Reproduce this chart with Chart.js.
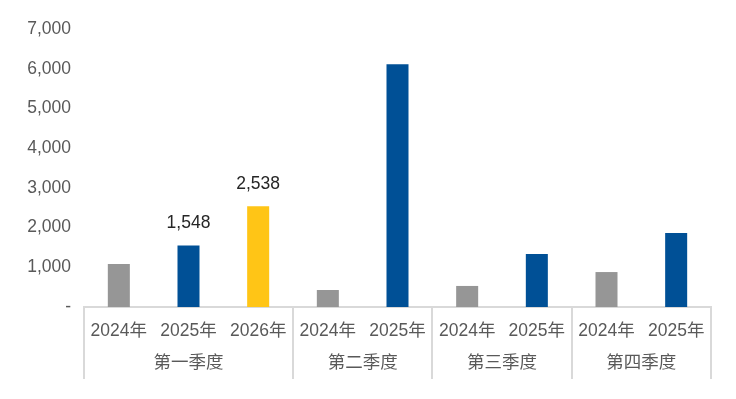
<!DOCTYPE html>
<html>
<head>
<meta charset="utf-8">
<script src="https://cdn.jsdelivr.net/npm/chart.js@4/dist/chart.umd.min.js"></script>
<style>
  html, body { margin: 0; padding: 0; background: #fff; }
  #wrap { width: 736px; height: 399px; }
</style>
</head>
<body>
<div id="wrap"><canvas id="quarterChart"></canvas></div>
<script>
// chart data
const quarters = ['第一季度', '第二季度', '第三季度', '第四季度'];
const quarterSizes = [3, 2, 2, 2];
const years = ['2024年', '2025年', '2026年', '2024年', '2025年', '2024年', '2025年', '2024年', '2025年'];
const values = [1080, 1548, 2538, 428, 6110, 530, 1335, 880, 1862];
const shownLabels = [false, true, true, false, false, false, false, false, false];
const yTicks = [0, 1000, 2000, 3000, 4000, 5000, 6000, 7000];

const yearColors = { '2024年': '#969696', '2025年': '#005096', '2026年': '#FFC516' };
const fontFamily = "'Liberation Sans', Arial, 'Noto Sans CJK SC', sans-serif";
const axisHeight = 72;

// quarter row + separators under the year labels
const groupAxisPlugin = {
  id: 'groupAxis',
  afterDraw(chart) {
    const ctx = chart.ctx;
    const x = chart.scales.x;
    const area = chart.chartArea;
    const top = area.bottom;
    const half = (x.getPixelForValue(1) - x.getPixelForValue(0)) / 2;

    ctx.save();
    ctx.strokeStyle = '#d9d9d9';
    ctx.lineWidth = 2;
    ctx.fillStyle = '#595959';
    ctx.font = '17.5px ' + fontFamily;
    ctx.textAlign = 'center';
    ctx.textBaseline = 'middle';

    let start = 0;
    const edges = [x.getPixelForValue(0) - half];
    quarters.forEach((q, i) => {
      const end = start + quarterSizes[i] - 1;
      const left = x.getPixelForValue(start) - half;
      const right = x.getPixelForValue(end) + half;
      edges.push(right);
      ctx.fillText(q, (left + right) / 2, top + 56);
      start = end + 1;
    });
    edges.forEach(e => {
      ctx.beginPath();
      ctx.moveTo(Math.round(e), top);
      ctx.lineTo(Math.round(e), top + axisHeight);
      ctx.stroke();
    });
    ctx.restore();
  }
};

// value labels above selected bars
const valueLabelPlugin = {
  id: 'valueLabels',
  afterDatasetsDraw(chart) {
    const ctx = chart.ctx;
    const meta = chart.getDatasetMeta(0);
    ctx.save();
    ctx.fillStyle = '#262626';
    ctx.font = '17.5px ' + fontFamily;
    ctx.textAlign = 'center';
    ctx.textBaseline = 'middle';
    meta.data.forEach((bar, i) => {
      if (!shownLabels[i]) return;
      ctx.fillText(values[i].toLocaleString('en-US'), bar.x, bar.y - 22);
    });
    ctx.restore();
  }
};

const quarterChart = new Chart(
  document.getElementById('quarterChart'),
  {
    type: 'bar',
    data: {
      labels: years,
      datasets: [{
        data: values,
        backgroundColor: years.map(y => yearColors[y]),
        categoryPercentage: 1,
        barPercentage: 0.316
      }]
    },
    options: {
      responsive: true,
      maintainAspectRatio: false,
      animation: false,
      layout: {
        padding: { top: 29, right: 25, bottom: 20, left: 0 }
      },
      plugins: {
        legend: { display: false },
        tooltip: { enabled: false }
      },
      scales: {
        x: {
          grid: { display: false, drawTicks: false },
          border: { display: true, color: '#d9d9d9', width: 2 },
          ticks: {
            autoSkip: false,
            maxRotation: 0,
            padding: 14,
            color: '#595959',
            font: { family: fontFamily, size: 17.5 }
          },
          afterFit(scale) { scale.height = axisHeight; }
        },
        y: {
          min: 0,
          max: 7000,
          afterBuildTicks(scale) { scale.ticks = yTicks.map(v => ({ value: v })); },
          grid: { display: false, drawTicks: false },
          border: { display: false },
          ticks: {
            padding: 13,
            color: '#595959',
            font: { family: fontFamily, size: 17.5 },
            callback: v => v === 0 ? '-' : v.toLocaleString('en-US')
          },
          afterFit(scale) { scale.width = 84; }
        }
      }
    },
    plugins: [groupAxisPlugin, valueLabelPlugin]
  }
);
</script>
</body>
</html>
